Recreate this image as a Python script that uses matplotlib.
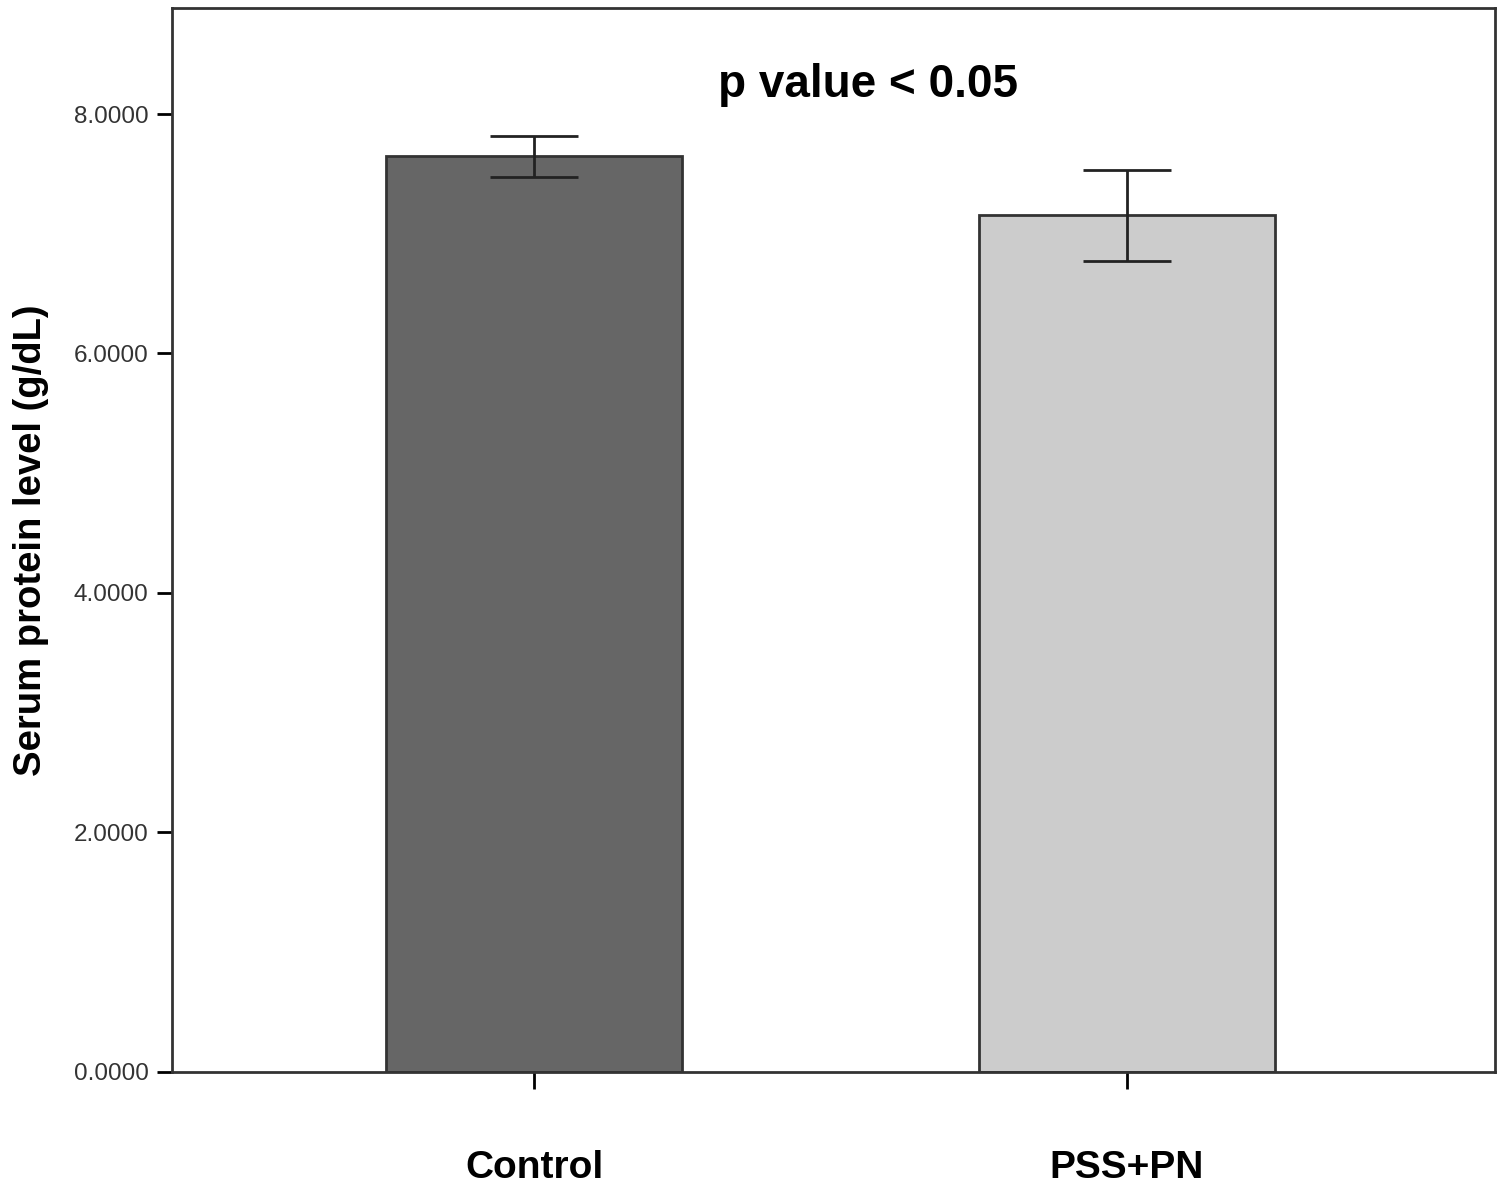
import matplotlib.pyplot as plt
import numpy as np

plt.rcParams['font.family'] = ['Liberation Sans', 'DejaVu Sans']

groups = ['Control', 'PSS+PN']
means = [7.65, 7.16]
err_low = [7.47, 6.77]
err_high = [7.82, 7.53]
bar_colors = ['#666666', '#cccccc']
yticks = [0, 2, 4, 6, 8]

fig = plt.figure(figsize=(15, 11.98), dpi=100)
ax = fig.add_axes([0.1147, 0.1052, 0.882, 0.8881])

x = np.arange(len(groups))
means = np.array(means)
yerr = [means - np.array(err_low), np.array(err_high) - means]

ax.bar(x, means, 0.5, color=bar_colors, edgecolor='#333333', linewidth=2, zorder=2)
ax.errorbar(x, means, yerr=yerr, fmt='none', ecolor='#222222',
            elinewidth=2, capsize=32, capthick=2, zorder=3)

ax.set_xlim(-0.6105, 1.6206)
ax.set_ylim(0, 8.885)
ax.set_yticks(yticks)
ax.set_yticklabels(['{:.4f}'.format(v) for v in yticks], fontsize=17.5, color='#333333')
ax.set_xticks(x)
ax.set_xticklabels(groups, fontsize=28, fontweight='bold')
ax.tick_params(axis='x', length=12, width=2, pad=44)
ax.tick_params(axis='y', length=11, width=2, pad=6)

for s in ax.spines.values():
    s.set_linewidth(2)
    s.set_color('#333333')

ax.set_ylabel('Serum protein level (g/dL)', fontsize=27.5, fontweight='bold', labelpad=18)
ax.text(0.563, 8.24, 'p value < 0.05', fontsize=33, fontweight='bold',
        ha='center', va='center')

fig.savefig('out.png', dpi=100)
